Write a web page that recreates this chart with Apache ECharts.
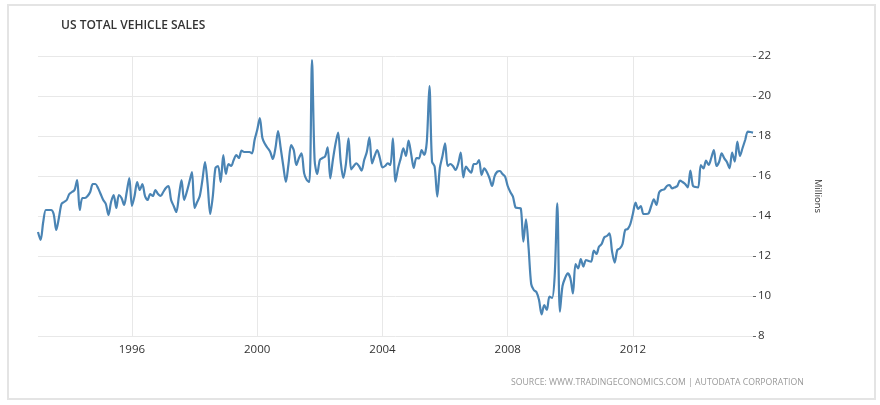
<!DOCTYPE html>
<html>
<head>
<meta charset="utf-8">
<script src="https://cdn.jsdelivr.net/npm/echarts@6/dist/echarts.min.js"></script>
<style>
  html, body { margin: 0; padding: 0; background: #fff; }
  #chartContainer { width: 880px; height: 405px; }
</style>
</head>
<body>
<div id="chartContainer"></div>
<script>
'use strict';
// monthly series, Jan 1993 .. Nov 2015 (millions, SAAR)
const startYear = 1993;
const sales = [
    13.2, 12.8, 13.7, 14.3, 14.3, 14.3, 14.1, 13.3, 13.9, 14.6, 14.7, 14.8,      // 1993
    15.1, 15.2, 15.3, 15.8, 14.3, 14.9, 14.9, 15.0, 15.2, 15.6, 15.6, 15.4,      // 1994
    15.1, 14.8, 14.6, 14.05, 14.7, 15.05, 14.4, 15.05, 14.9, 14.55, 15.2, 15.9,  // 1995
    14.5, 15.0, 15.7, 15.3, 15.6, 15.0, 14.8, 15.1, 15.0, 15.3, 15.1, 15.0,      // 1996
    15.2, 15.4, 15.5, 14.8, 14.5, 14.2, 15.0, 15.8, 14.8, 15.2, 15.7, 16.2,      // 1997
    14.4, 14.7, 15.0, 15.8, 16.7, 15.6, 14.1, 15.0, 16.4, 16.5, 15.7, 17.05,     // 1998
    16.1, 16.6, 16.5, 16.8, 17.05, 16.9, 17.27, 17.2, 17.2, 17.2, 17.13, 17.8,   // 1999
    18.3, 18.9, 17.9, 17.6, 17.4, 17.2, 16.85, 17.4, 18.25, 17.4, 16.5, 15.7,    // 2000
    16.6, 17.55, 17.3, 16.55, 16.9, 17.13, 16.13, 15.8, 15.7, 21.8, 16.8, 16.1,  // 2001
    16.8, 16.9, 16.97, 17.43, 15.88, 16.8, 17.6, 18.17, 16.72, 15.9, 16.6, 17.88, // 2002
    16.33, 16.5, 16.63, 16.5, 16.27, 16.8, 17.2, 17.93, 16.63, 17.0, 17.3, 16.9, // 2003
    16.43, 16.5, 16.63, 16.55, 17.88, 15.72, 16.4, 16.88, 17.38, 17.0, 17.77, 17.1, // 2004
    16.4, 16.9, 16.88, 17.3, 17.05, 17.72, 20.5, 16.72, 16.47, 14.97, 16.4, 17.0, // 2005
    17.63, 16.5, 16.6, 16.5, 16.3, 16.6, 17.17, 15.93, 16.47, 16.3, 16.17, 16.6, // 2006
    16.6, 16.8, 16.05, 16.38, 16.2, 15.9, 15.5, 16.0, 16.22, 16.25, 16.1, 15.97, // 2007
    15.5, 15.2, 14.97, 14.43, 14.4, 14.38, 12.72, 13.83, 12.4, 10.6, 10.3, 10.2, // 2008
    9.8, 9.08, 9.55, 9.3, 9.97, 9.9, 11.0, 14.63, 9.22, 10.5, 10.9, 11.13,       // 2009
    10.9, 10.13, 11.6, 11.38, 11.85, 11.47, 11.8, 11.75, 11.72, 12.27, 12.1, 12.47, // 2010
    12.6, 12.93, 13.0, 13.13, 12.22, 11.67, 12.3, 12.38, 12.6, 13.3, 13.35, 13.6, // 2011
    14.13, 14.67, 14.35, 14.5, 14.1, 14.1, 14.13, 14.5, 14.83, 14.55, 15.17, 15.3, // 2012
    15.33, 15.5, 15.55, 15.38, 15.43, 15.5, 15.77, 15.7, 15.6, 15.43, 16.27, 15.5, // 2013
    15.45, 15.43, 16.55, 16.38, 16.77, 16.55, 16.9, 17.3, 16.5, 16.7, 17.13, 16.88, // 2014
    16.7, 16.38, 17.17, 16.72, 17.72, 17.0, 17.4, 17.8, 18.22, 18.2, 18.17        // 2015
];
const yearTicks = ['1996', '2000', '2004', '2008', '2012'];
const yMin = 8, yMax = 22, yStep = 2;

let months = [];
for (let i = 0; i < sales.length; i++) {
    let y = startYear + Math.floor(i / 12);
    let m = (i % 12) + 1;
    months.push(y + '-' + (m < 10 ? '0' + m : m));
}

let isYearTick = function(index, value) {
    return value.slice(5) === '01' && yearTicks.indexOf(value.slice(0, 4)) >= 0;
};

let initChart = (function() {
    let chartContainer = document.getElementById('chartContainer');
    let demoChart = echarts.init(chartContainer);

    let font = ['Open Sans', 'DejaVu Sans', 'sans-serif'];

    let option = {
        backgroundColor: '#fff',
        animation: false,
        title: [{
            text: 'US TOTAL VEHICLE SALES',
            left: 61,
            top: 20,
            padding: 0,
            textStyle: {
                fontFamily: font,
                fontWeight: 600,
                fontSize: 12,
                color: '#333'
            }
        }, {
            text: 'SOURCE: WWW.TRADINGECONOMICS.COM | AUTODATA CORPORATION',
            left: 511,
            top: 378,
            padding: 0,
            textStyle: {
                fontFamily: font,
                fontWeight: 'normal',
                fontSize: 8.7,
                color: '#999'
            }
        }],
        graphic: [{
            type: 'rect',
            shape: { x: 8, y: 5, width: 867, height: 394 },
            style: { fill: 'none', stroke: '#e4e4e4', lineWidth: 2 },
            silent: true
        }],
        grid: {
            top: 56,
            left: 38,
            right: 127,
            bottom: 69
        },
        xAxis: {
            type: 'category',
            data: months,
            boundaryGap: false,
            axisLine: { show: false },
            axisTick: { show: false },
            axisLabel: {
                interval: isYearTick,
                formatter: function(v) { return v.slice(0, 4); },
                margin: 8,
                fontFamily: font,
                fontSize: 11.5,
                color: '#333'
            },
            splitLine: {
                show: true,
                interval: isYearTick,
                lineStyle: { color: '#e8e8e8', width: 1 }
            }
        },
        yAxis: {
            type: 'value',
            position: 'right',
            min: yMin,
            max: yMax,
            interval: yStep,
            name: 'Millions',
            nameLocation: 'middle',
            nameRotate: -90,
            nameGap: 60,
            nameTextStyle: {
                fontFamily: font,
                fontSize: 9.5,
                color: '#333'
            },
            axisLine: { show: false },
            axisTick: {
                show: true,
                length: 3,
                lineStyle: { color: '#666' }
            },
            axisLabel: {
                margin: 5,
                fontFamily: font,
                fontSize: 11.5,
                color: '#333'
            },
            splitLine: {
                lineStyle: { color: '#e8e8e8', width: 1 }
            }
        },
        series: [{
            name: 'US Total Vehicle Sales',
            type: 'line',
            data: sales,
            showSymbol: false,
            smooth: 0.3,
            lineStyle: {
                color: '#4a84b4',
                width: 2.2
            },
            itemStyle: { color: '#4a84b4' }
        }]
    };

    demoChart.setOption(option);
})();
</script>
</body>
</html>
